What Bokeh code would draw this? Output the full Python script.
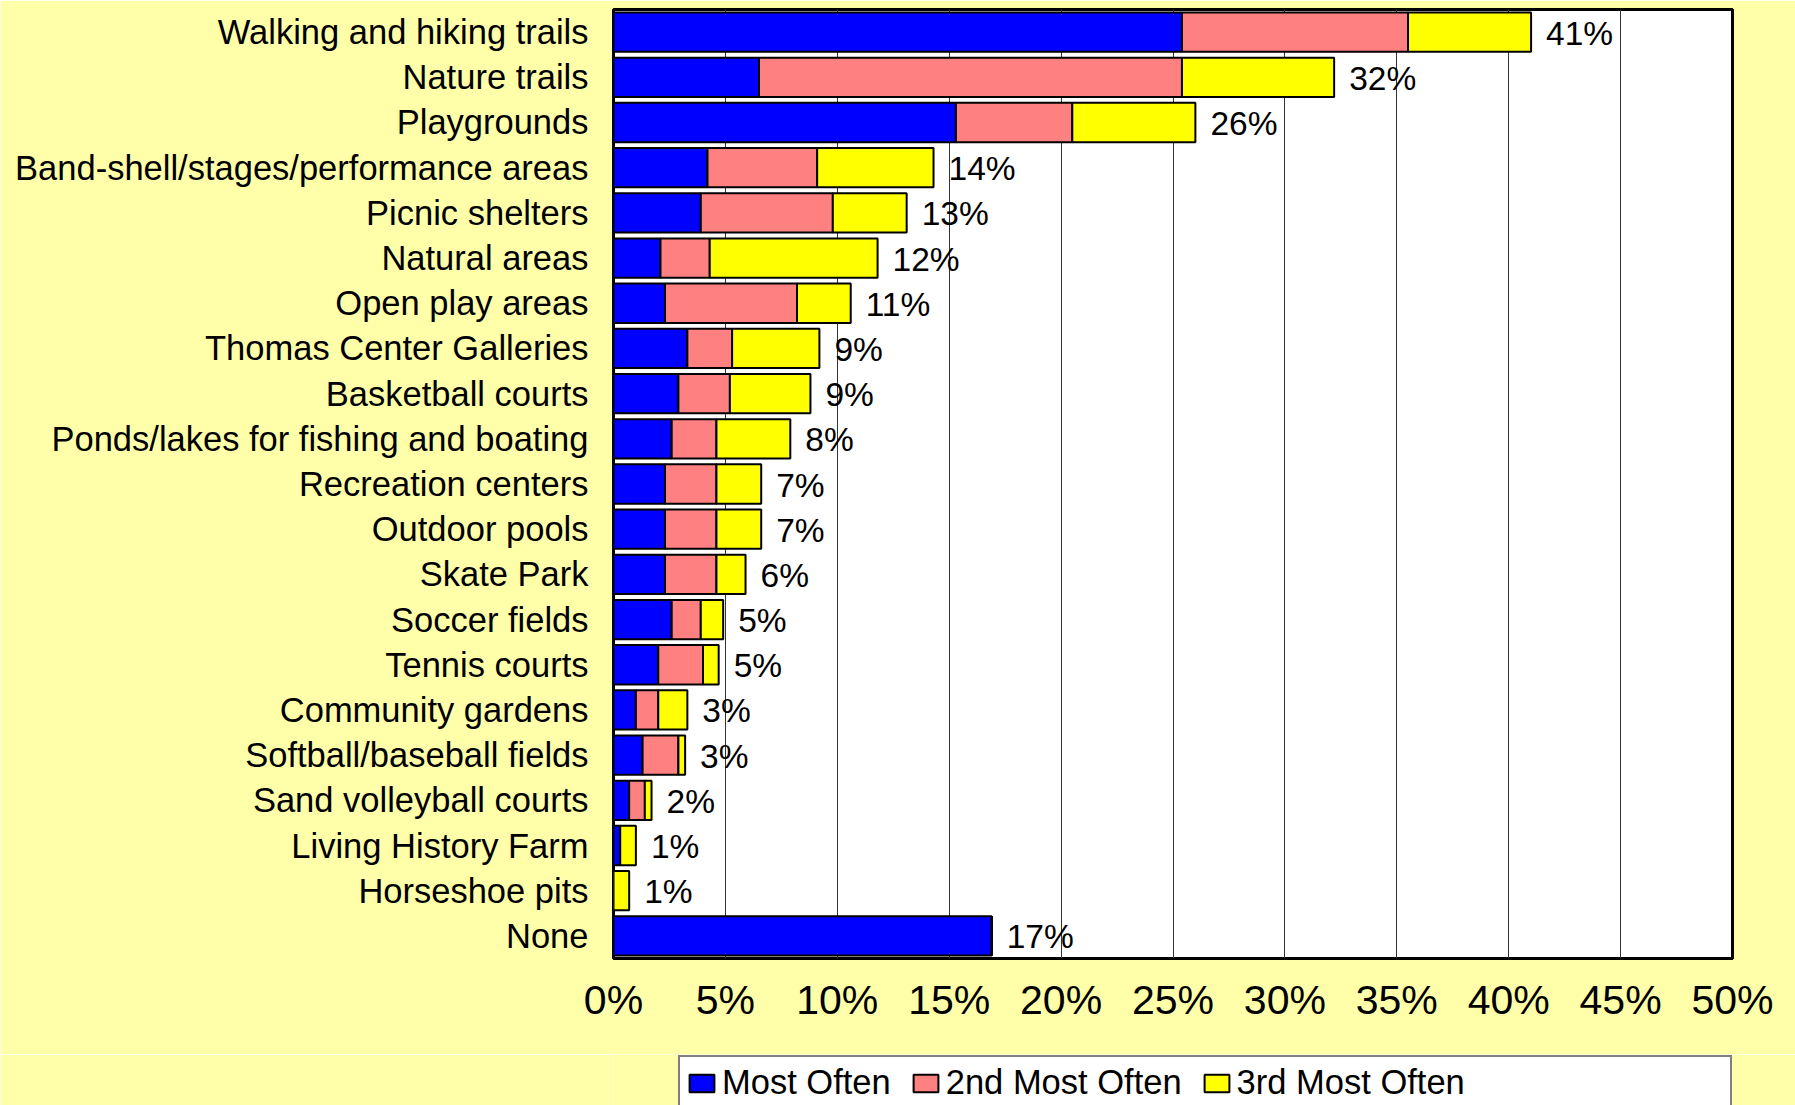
from bokeh.plotting import figure
from bokeh.layouts import column
from bokeh.models import (ColumnDataSource, FactorRange, FixedTicker, PrintfTickFormatter,
                          Legend, LegendItem)
from bokeh.core.properties import value
from bokeh.embed import file_html
from bokeh.resources import INLINE

categories = [
    "Walking and hiking trails", "Nature trails", "Playgrounds",
    "Band-shell/stages/performance areas", "Picnic shelters", "Natural areas",
    "Open play areas", "Thomas Center Galleries", "Basketball courts",
    "Ponds/lakes for fishing and boating", "Recreation centers", "Outdoor pools",
    "Skate Park", "Soccer fields", "Tennis courts", "Community gardens",
    "Softball/baseball fields", "Sand volleyball courts", "Living History Farm",
    "Horseshoe pits", "None",
]
most_often = [25.4, 6.5, 15.3, 4.2, 3.9, 2.1, 2.3, 3.3, 2.9, 2.6, 2.3, 2.3, 2.3, 2.6, 2.0, 1.0, 1.3, 0.7, 0.3, 0.0, 16.9]
second_most = [10.1, 18.9, 5.2, 4.9, 5.9, 2.2, 5.9, 2.0, 2.3, 2.0, 2.3, 2.3, 2.3, 1.3, 2.0, 1.0, 1.6, 0.7, 0.0, 0.0, 0.0]
third_most = [5.5, 6.8, 5.5, 5.2, 3.3, 7.5, 2.4, 3.9, 3.6, 3.3, 2.0, 2.0, 1.3, 1.0, 0.7, 1.3, 0.3, 0.3, 0.7, 0.7, 0.0]
total_labels = ["41%", "32%", "26%", "14%", "13%", "12%", "11%", "9%", "9%", "8%", "7%", "7%",
                "6%", "5%", "5%", "3%", "3%", "2%", "1%", "1%", "17%"]
series_names = ["Most Often", "2nd Most Often", "3rd Most Often"]
series_colors = ["#0000FF", "#FF8080", "#FFFF00"]
x_ticks = [0, 5, 10, 15, 20, 25, 30, 35, 40, 45, 50]

FONT = "Liberation Sans"
BG = "#FFFFAA"

totals = [a + b + c for a, b, c in zip(most_often, second_most, third_most)]
source = ColumnDataSource(data=dict(
    cat=categories, most=most_often, second=second_most, third=third_most,
    total=totals, label=total_labels,
))

p = figure(
    width=1795, height=1054,
    y_range=FactorRange(*reversed(categories)),
    x_range=(0, 50),
    output_backend="svg", toolbar_location=None,
    min_border_left=613, min_border_right=63, min_border_top=9, min_border_bottom=96,
)
p.background_fill_color = "white"
p.border_fill_color = BG
p.outline_line_color = "black"
p.outline_line_width = 3

bars = p.hbar_stack(
    ["most", "second", "third"], y="cat", height=0.87, source=source,
    fill_color=series_colors, line_color="black", line_width=2,
)

p.text(x="total", y="cat", text="label", source=source, x_offset=15, y_offset=1,
       text_baseline="middle", text_align="left", text_color="black",
       text_font=value(FONT), text_font_size="33.5px")

p.xaxis.ticker = FixedTicker(ticks=x_ticks)
p.xaxis.formatter = PrintfTickFormatter(format="%d%%")
p.xaxis.axis_line_color = None
p.xaxis.major_tick_line_color = None
p.xaxis.minor_tick_line_color = None
p.xaxis.major_tick_out = 0
p.xaxis.major_label_standoff = 18
p.xaxis.major_label_text_font = FONT
p.xaxis.major_label_text_font_size = "41px"
p.xaxis.major_label_text_color = "black"

p.yaxis.axis_line_color = None
p.yaxis.major_tick_line_color = None
p.yaxis.minor_tick_line_color = None
p.yaxis.major_tick_out = 0
p.yaxis.major_label_standoff = 25
p.yaxis.major_label_text_font = FONT
p.yaxis.major_label_text_font_size = "34.5px"
p.yaxis.major_label_text_color = "black"

p.xgrid.ticker = FixedTicker(ticks=x_ticks)
p.xgrid.grid_line_color = "#333333"
p.xgrid.grid_line_width = 1
p.ygrid.grid_line_color = None

# legend strip below the chart (same frame borders as the chart, transparent frame)
lf = figure(
    width=1795, height=51, x_range=(0, 1), y_range=(0, 1),
    x_axis_location=None, y_axis_location=None,
    output_backend="svg", toolbar_location=None,
    min_border_left=613, min_border_right=63, min_border_top=0, min_border_bottom=0,
)
lf.background_fill_color = BG
lf.border_fill_color = BG
lf.outline_line_color = None
lf.xgrid.visible = False
lf.ygrid.visible = False

nan = float("nan")
swatches = [
    lf.hbar(y=[nan], left=[nan], right=[nan], height=1,
            fill_color=c, line_color="black", line_width=2)
    for c in series_colors
]
legend_labels = list(series_names)
legend_labels[-1] = legend_labels[-1] + "\u00a0" * 27  # widen the white box to the plot width
items = [LegendItem(label=lab, renderers=[r]) for lab, r in zip(legend_labels, swatches)]
lg = Legend(items=items, orientation="horizontal", location=(65, -5))
lg.margin = 0
lg.padding = 6
lg.spacing = 19
lg.glyph_width = 31
lg.glyph_height = 22
lg.label_standoff = 5
lg.label_text_font = FONT
lg.label_text_font_size = "34.5px"
lg.label_text_color = "black"
lg.background_fill_color = "white"
lg.background_fill_alpha = 1
lg.border_line_color = "black"
lg.border_line_width = 2
lf.add_layout(lg)

layout = column(p, lf, spacing=0)
open("out.html", "w").write(file_html(layout, INLINE))
